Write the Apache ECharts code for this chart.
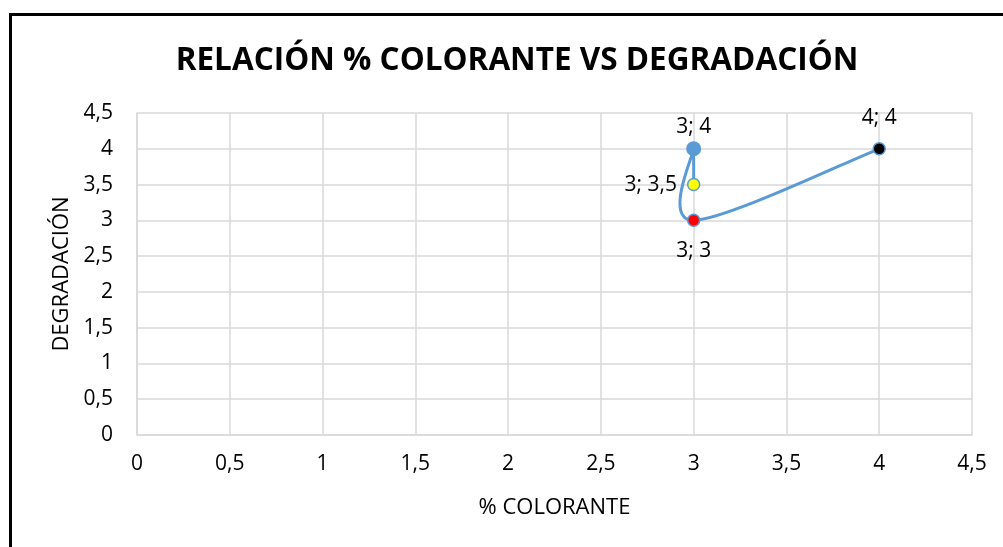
<!DOCTYPE html>
<html>
<head>
<meta charset="utf-8">
<script src="https://cdn.jsdelivr.net/npm/echarts@6/dist/echarts.min.js"></script>
<style>
  html, body { margin: 0; padding: 0; background: #fff; }
  #main { width: 1003px; height: 547px; }
</style>
</head>
<body>
<div id="main"></div>
<script>
// valores (en el orden de la serie)
var colorante = [3, 3, 3, 4];
var degradacion = [3.5, 4, 3, 4];
var puntoColor = ['#ffff00', '#5b9bd5', '#ff0000', '#000000'];
var puntoTam = [12, 15, 12, 12];
var etiquetaPos = ['left', 'top', 'bottom', 'top'];
var etiquetaDist = [10, 4, 13, 14];

var FONT = '"Open Sans", "Liberation Sans", sans-serif';
var AZUL = '#5b9bd5';

function coma(v) {
  return String(v).replace('.', ',');
}

var puntos = [];
for (var i = 0; i < colorante.length; i++) {
  puntos.push({
    value: [colorante[i], degradacion[i]],
    symbolSize: puntoTam[i],
    itemStyle: { color: puntoColor[i], borderColor: AZUL, borderWidth: i == 1 ? 0 : 1.5, opacity: 1 },
    label: { position: etiquetaPos[i], distance: etiquetaDist[i] }
  });
}

// linea suavizada estilo excel (catmull-rom -> bezier)
function dibujarLinea(params, api) {
  var p = [];
  for (var i = 0; i < colorante.length; i++) p.push(api.coord([colorante[i], degradacion[i]]));
  var d = 'M' + p[0][0] + ' ' + p[0][1];
  for (var j = 0; j < p.length - 1; j++) {
    var p0 = p[j - 1] || p[j], p1 = p[j], p2 = p[j + 1], p3 = p[j + 2] || p[j + 1];
    var c1x = p1[0] + (p2[0] - p0[0]) / 6, c1y = p1[1] + (p2[1] - p0[1]) / 6;
    var c2x = p2[0] - (p3[0] - p1[0]) / 6, c2y = p2[1] - (p3[1] - p1[1]) / 6;
    d += ' C' + c1x + ' ' + c1y + ' ' + c2x + ' ' + c2y + ' ' + p2[0] + ' ' + p2[1];
  }
  return {
    type: 'path',
    shape: { pathData: d },
    style: { fill: 'none', stroke: AZUL, lineWidth: 3, lineCap: 'round', lineJoin: 'round' }
  };
}

var chart = echarts.init(document.getElementById('main'));
var option = {
  animation: false,
  graphic: [{
    type: 'rect',
    shape: { x: 10.5, y: 14.5, width: 1100, height: 600 },
    style: { fill: 'none', stroke: '#000', lineWidth: 3 }
  }],
  title: {
    text: 'RELACIÓN % COLORANTE VS DEGRADACIÓN',
    left: 512,
    top: 40,
    textAlign: 'center',
    textStyle: { fontFamily: FONT, fontSize: 31.5, fontWeight: 'bold', color: '#000' }
  },
  grid: { left: 137, right: 31, top: 113, bottom: 112 },
  xAxis: {
    type: 'value',
    min: 0, max: 4.5, interval: 0.5,
    name: '% COLORANTE',
    nameLocation: 'middle',
    nameGap: 62,
    nameTextStyle: { fontFamily: FONT, fontSize: 22, color: '#000' },
    axisLine: { show: true, lineStyle: { color: '#d9d9d9', width: 1.5 } },
    axisTick: { show: false },
    axisLabel: { fontFamily: FONT, fontSize: 21, color: '#000', margin: 19, formatter: coma },
    splitLine: { show: true, lineStyle: { color: '#d9d9d9', width: 1.5 } }
  },
  yAxis: {
    type: 'value',
    min: 0, max: 4.5, interval: 0.5,
    name: 'DEGRADACIÓN',
    nameLocation: 'middle',
    nameGap: 62,
    nameTextStyle: { fontFamily: FONT, fontSize: 22, color: '#000' },
    axisLine: { show: true, lineStyle: { color: '#d9d9d9', width: 1.5 } },
    axisTick: { show: false },
    axisLabel: { fontFamily: FONT, fontSize: 21, color: '#000', margin: 24, formatter: coma },
    splitLine: { show: true, lineStyle: { color: '#d9d9d9', width: 1.5 } }
  },
  series: [{
    type: 'custom',
    coordinateSystem: 'cartesian2d',
    silent: true,
    z: 1,
    encode: { x: 0, y: 1 },
    data: [[colorante[0], degradacion[0]]],
    renderItem: dibujarLinea
  }, {
    type: 'scatter',
    symbol: 'circle',
    z: 3,
    itemStyle: { opacity: 1 },
    label: {
      show: true,
      fontFamily: FONT,
      fontSize: 21,
      color: '#000',
      formatter: function (p) { return coma(p.value[0]) + '; ' + coma(p.value[1]); }
    },
    data: puntos
  }]
};
chart.setOption(option);
</script>
</body>
</html>
